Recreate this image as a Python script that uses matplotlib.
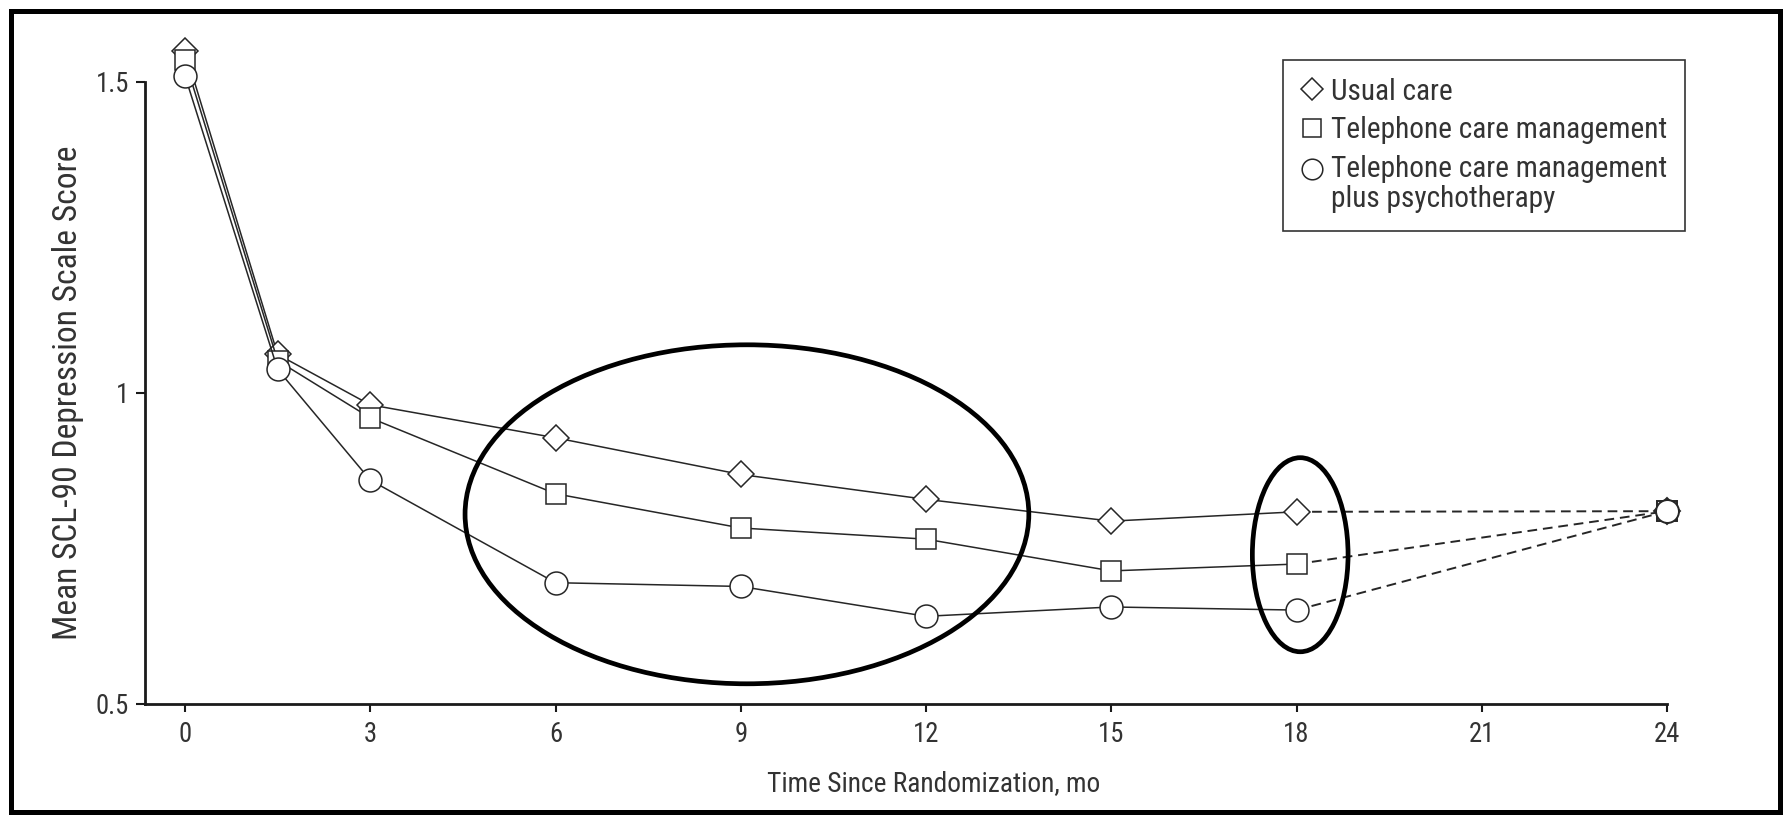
import numpy as np
import matplotlib
matplotlib.use("Agg")
import matplotlib.pyplot as plt
from matplotlib import font_manager
from matplotlib.patches import Ellipse, Rectangle
from matplotlib.legend_handler import HandlerLine2D

# Data
months = [0, 1.5, 3, 6, 9, 12, 15, 18, 24]
usual_care = [1.55, 1.062, 0.981, 0.928, 0.869, 0.829, 0.794, 0.809, 0.81]
phone_care = [1.535, 1.052, 0.960, 0.838, 0.783, 0.765, 0.714, 0.725, 0.81]
phone_psych = [1.51, 1.038, 0.860, 0.695, 0.689, 0.641, 0.656, 0.651, 0.81]
labels = ['Usual care', 'Telephone care management',
          'Telephone care management\nplus psychotherapy']
x_ticks = [0, 3, 6, 9, 12, 15, 18, 21, 24]
y_ticks = [0.5, 1, 1.5]
y_ticklabels = ['0.5', '1', '1.5']

# the original uses a condensed sans; use one if it is installed
names = {f.name for f in font_manager.fontManager.ttflist}
if 'Liberation Sans Narrow' in names:
    family, k = 'Liberation Sans Narrow', 1 / 0.82
elif 'Roboto Condensed' in names:
    family, k = 'Roboto Condensed', 1 / 0.85
else:
    family, k = 'Liberation Sans', 1.0
plt.rcParams['font.family'] = [family, 'DejaVu Sans']

fs_tick = 16.3 * k
fs_xlab = 16.8 * k
fs_ylab = 20.5 * k
fs_leg = 18.0 * k

W, H = 1787, 824
fig = plt.figure(figsize=(W / 100, H / 100), dpi=100)
ax = fig.add_axes([145 / W, 1 - 704 / H, (1667 - 145) / W, 622 / H])

ink = '#262626'
text_col = '#333333'
series = [(usual_care, 'D', 13.0), (phone_care, 's', 15.0), (phone_psych, 'o', 16.5)]
handles = []
for i, (vals, mk, ms) in enumerate(series):
    z = 3 + i
    # solid part up to 18 months
    h, = ax.plot(months[:-1], vals[:-1], color=ink, lw=1.1, marker=mk, ms=ms,
                 mfc='white', mec=ink, mew=1.1, zorder=z, clip_on=False)
    # dashed extension to 24 months
    ax.plot(months[-2:], vals[-2:], color=ink, lw=1.4, ls=(0, (5, 3)), zorder=z - 0.5,
            clip_on=False)
    ax.plot(months[-1:], vals[-1:], ls='none', marker=mk, ms=ms, mfc='white', mec=ink,
            mew=1.4, zorder=z, clip_on=False)
    handles.append(h)

# highlight ellipses
ax.add_patch(Ellipse((9.1, 0.805), 9.13, 0.545, fill=False, ec='black', lw=3.4,
                     zorder=10, clip_on=False))
ax.add_patch(Ellipse((18.06, 0.74), 1.55, 0.312, fill=False, ec='black', lw=3.4,
                     zorder=10, clip_on=False))

ax.set_xlim(-0.648, 24)
ax.set_ylim(0.5, 1.5)
for s in ['top', 'right']:
    ax.spines[s].set_visible(False)
for s in ['left', 'bottom']:
    ax.spines[s].set_linewidth(2.0)
    ax.spines[s].set_color('#1a1a1a')

ax.set_xticks(x_ticks)
ax.set_xticklabels([str(t) for t in x_ticks])
ax.set_yticks(y_ticks)
ax.set_yticklabels(y_ticklabels)
ax.tick_params(axis='x', length=6, width=1.5, pad=6, labelsize=fs_tick,
               colors='#1a1a1a', labelcolor=text_col)
ax.tick_params(axis='y', length=6.5, width=1.5, pad=5, labelsize=fs_tick,
               colors='#1a1a1a', labelcolor=text_col)

ax.set_xlabel('Time Since Randomization, mo', fontsize=fs_xlab, color=text_col, va='center')
ax.xaxis.set_label_coords(0.518, -0.128)
ax.set_ylabel('Mean SCL-90 Depression Scale Score', fontsize=fs_ylab, color=text_col)
ax.yaxis.set_label_coords(-0.04, 0.5)


class ShiftedHandler(HandlerLine2D):
    def __init__(self, shift=0.0, **kw):
        super().__init__(**kw)
        self.shift = shift

    def create_artists(self, legend, orig_handle, xdescent, ydescent, width, height,
                       fontsize, trans):
        arts = super().create_artists(legend, orig_handle, xdescent, ydescent, width,
                                      height, fontsize, trans)
        for a in arts:
            a.set_ydata(np.asarray(a.get_ydata()) + self.shift * fontsize)
            a.set_linestyle('none')
        return arts


leg = fig.legend(handles, labels, loc='upper left',
                 bbox_to_anchor=(1283 / W, 1 - 60 / H), bbox_transform=fig.transFigure,
                 fontsize=fs_leg, frameon=True, fancybox=False, framealpha=1,
                 edgecolor='#333333', borderpad=0.6, borderaxespad=0,
                 handlelength=0.8, handletextpad=0.22, labelspacing=0.36,
                 markerscale=0.9,
                 handler_map={handles[0]: ShiftedHandler(0), handles[1]: ShiftedHandler(0),
                              handles[2]: ShiftedHandler(0.54)})
leg.get_frame().set_linewidth(1.2)
for t in leg.get_texts():
    t.set_color(text_col)
    t.set_linespacing(1.1)

# outer frame
fig.add_artist(Rectangle((11 / W, 1 - 812 / H), (1780 - 11) / W, (812 - 11) / H,
                         transform=fig.transFigure, fill=False, ec='black', lw=3.6))

fig.savefig('out.png', dpi=100)
